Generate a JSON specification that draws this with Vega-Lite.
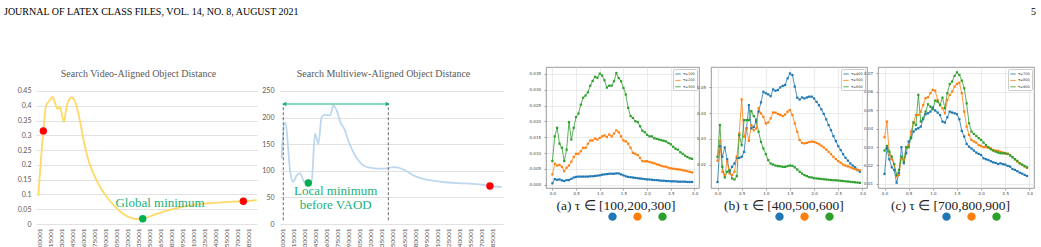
{
"$schema": "https://vega.github.io/schema/vega-lite/v6.json",
"background": "white",
"padding": {"left": 4, "top": 7, "right": 0, "bottom": 0},
"config": {"view": {"stroke": null}},
"spacing": 50,
"bounds": "flush",
"vconcat": [
{
"width": 1032, "height": 10,
"layer": [
{"data": {"values": [{"p": 0, "t": "JOURNAL OF LATEX CLASS FILES, VOL. 14, NO. 8, AUGUST 2021"}]},
 "mark": {"type": "text", "align": "left", "font": "Liberation Serif", "fontSize": 10, "color": "#000000"},
 "encoding": {"x": {"field": "p", "type": "quantitative", "scale": {"domain": [0, 1]}, "axis": null}, "text": {"field": "t"}}},
{"data": {"values": [{"p": 1, "t": "5"}]},
 "mark": {"type": "text", "align": "right", "font": "Liberation Serif", "fontSize": 10, "color": "#000000"},
 "encoding": {"x": {"field": "p", "type": "quantitative", "scale": {"domain": [0, 1]}, "axis": null}, "text": {"field": "t"}}}
]
},
{
"spacing": 0,
"bounds": "flush",
"resolve": {"scale": {"stroke": "independent", "fill": "independent", "color": "independent", "shape": "independent"}, "legend": {"stroke": "independent", "fill": "independent", "color": "independent", "shape": "independent"}},
"hconcat": [
{"width": 32, "height": 10, "data": {"values": []}, "mark": "point"},
{
"width": 221, "height": 157,
"title": {"text": "Search Video-Aligned Object Distance", "fontSize": 10, "color": "#595959", "font": "Liberation Serif", "fontWeight": "normal", "anchor": "middle", "offset": -12, "dx": -8},
"encoding": {
 "x": {"field": "x", "type": "quantitative", "scale": {"domain": [95450, 396830], "nice": false, "zero": false},
  "axis": {"title": null, "values": [100001,115001,130001,145001,160001,175001,190001,205001,220001,235001,250001,265001,280001,295001,310001,325001,340001,355001,370001,385001], "format": "d", "labelAngle": 270, "labelFont": "Lato", "labelFontSize": 6.5, "labelColor": "#595959", "labelPadding": 4, "labelFlush": false, "labelOverlap": false, "domain": false, "ticks": false, "grid": false}},
 "y": {"field": "y", "type": "quantitative", "scale": {"domain": [0, 0.5312], "nice": false, "zero": false},
  "axis": {"title": null, "values": [0,0.05,0.1,0.15,0.2,0.25,0.3,0.35,0.4,0.45], "format": "~g", "labelFont": "Lato", "labelFontSize": 7, "labelColor": "#595959", "labelPadding": 5, "domain": false, "ticks": false, "grid": true, "gridColor": "#D9D9D9", "gridWidth": 0.8}}
},
"layer": [
 {"data": {"values": [{"x":98600,"y":0.095},{"x":105450,"y":0.315},{"x":109100,"y":0.4},{"x":114550,"y":0.42},{"x":118200,"y":0.43},{"x":121400,"y":0.41},{"x":124550,"y":0.39},{"x":128200,"y":0.395},{"x":130900,"y":0.37},{"x":133650,"y":0.345},{"x":136350,"y":0.385},{"x":139550,"y":0.415},{"x":144100,"y":0.428},{"x":148650,"y":0.415},{"x":153200,"y":0.375},{"x":157700,"y":0.318},{"x":162300,"y":0.262},{"x":166800,"y":0.217},{"x":173650,"y":0.171},{"x":182750,"y":0.126},{"x":191800,"y":0.092},{"x":203200,"y":0.059},{"x":214550,"y":0.034},{"x":225900,"y":0.02},{"x":234000,"y":0.017},{"x":241000,"y":0.018},{"x":255450,"y":0.03},{"x":273650,"y":0.045},{"x":296350,"y":0.059},{"x":319100,"y":0.068},{"x":341800,"y":0.072},{"x":364550,"y":0.076},{"x":378200,"y":0.077},{"x":396400,"y":0.081}]},
  "mark": {"type": "line", "interpolate": "monotone", "color": "#FFD966", "strokeWidth": 1.8}},
 {"data": {"values": [{"x":105450,"y":0.315,"kind":"endpoint"},{"x":378200,"y":0.077,"kind":"endpoint"},{"x":241000,"y":0.018,"kind":"minimum"}]},
  "mark": {"type": "circle", "size": 55, "opacity": 1},
  "encoding": {"color": {"field": "kind", "type": "nominal", "scale": {"domain": ["endpoint","minimum"], "range": ["#FF0000","#00B050"]}, "legend": null}}},
 {"data": {"values": [{"x":264550,"y":0.07,"label":"Global minimum"}]},
  "mark": {"type": "text", "font": "Liberation Serif", "fontSize": 13, "color": "#1BAF7A"},
  "encoding": {"text": {"field": "label"}}}
]
},
{"width": 23, "height": 10, "data": {"values": []}, "mark": "point"},
{
"width": 223, "height": 157,
"title": {"text": "Search Multiview-Aligned Object Distance", "fontSize": 10, "color": "#595959", "font": "Liberation Serif", "fontWeight": "normal", "anchor": "middle", "offset": -12, "dx": -8},
"encoding": {
 "x": {"field": "x", "type": "quantitative", "scale": {"domain": [96370, 399630], "nice": false, "zero": false},
  "axis": {"title": null, "values": [100001,115001,130001,145001,160001,175001,190001,205001,220001,235001,250001,265001,280001,295001,310001,325001,340001,355001,370001,385001], "format": "d", "labelAngle": 270, "labelFont": "Lato", "labelFontSize": 6.5, "labelColor": "#595959", "labelPadding": 4, "labelFlush": false, "labelOverlap": false, "domain": false, "ticks": false, "grid": false}},
 "y": {"field": "y", "type": "quantitative", "scale": {"domain": [0, 295.1], "nice": false, "zero": false},
  "axis": {"title": null, "values": [0,50,100,150,200,250], "format": "d", "labelFont": "Lato", "labelFontSize": 7, "labelColor": "#595959", "labelPadding": 6, "domain": false, "ticks": false, "grid": true, "gridColor": "#D9D9D9", "gridWidth": 0.8}}
},
"layer": [
 {"data": {"values": [{"x":98640,"y":123},{"x":102270,"y":189},{"x":104080,"y":190},{"x":107700,"y":138},{"x":109970,"y":101},{"x":114500,"y":79},{"x":119030,"y":91.5},{"x":123570,"y":95},{"x":129460,"y":79},{"x":134890,"y":77},{"x":139430,"y":81},{"x":143960,"y":170},{"x":148490,"y":151},{"x":153020,"y":201},{"x":157550,"y":205.5},{"x":164350,"y":204},{"x":168880,"y":223},{"x":173410,"y":213.7},{"x":179300,"y":188.6},{"x":183840,"y":179},{"x":189280,"y":157},{"x":196070,"y":135},{"x":202870,"y":119.7},{"x":209670,"y":110},{"x":218730,"y":106},{"x":230060,"y":104},{"x":241390,"y":104.6},{"x":250450,"y":107},{"x":257250,"y":106},{"x":266310,"y":101},{"x":277640,"y":91.5},{"x":291240,"y":85},{"x":307100,"y":81},{"x":325230,"y":78},{"x":347890,"y":76.4},{"x":370540,"y":74},{"x":381870,"y":71.4},{"x":397730,"y":69.5}]},
  "mark": {"type": "line", "interpolate": "monotone", "color": "#BDD7EE", "strokeWidth": 1.8}},
 {"data": {"values": [{"x":100860,"y":7,"y2":227},{"x":243680,"y":7,"y2":227}]},
  "mark": {"type": "rule", "strokeDash": [3,2], "color": "#595959", "strokeWidth": 0.9},
  "encoding": {"y2": {"field": "y2"}}},
 {"data": {"values": [{"x":102200,"x2":242800,"y":225.6}]},
  "mark": {"type": "rule", "color": "#1BAF7A", "strokeWidth": 1.2},
  "encoding": {"x2": {"field": "x2"}}},
 {"data": {"values": [{"x":102200,"y":225.6,"dir":"triangle-left"},{"x":242800,"y":225.6,"dir":"triangle-right"}]},
  "mark": {"type": "point", "filled": true, "size": 22, "color": "#1BAF7A", "opacity": 1},
  "encoding": {"shape": {"field": "dir", "type": "nominal", "scale": null}}},
 {"data": {"values": [{"x":134890,"y":77,"kind":"minimum"},{"x":381870,"y":71.4,"kind":"endpoint"}]},
  "mark": {"type": "circle", "size": 55, "opacity": 1},
  "encoding": {"color": {"field": "kind", "type": "nominal", "scale": {"domain": ["endpoint","minimum"], "range": ["#FF0000","#00B050"]}, "legend": null}}},
 {"data": {"values": [{"x":172100,"y":62,"label":"Local minimum"},{"x":172100,"y":35.7,"label":"before VAOD"}]},
  "mark": {"type": "text", "font": "Liberation Serif", "fontSize": 13, "color": "#1BAF7A"},
  "encoding": {"text": {"field": "label"}}}
]
},
{"width": 43, "height": 10, "data": {"values": []}, "mark": "point"},
{
"width": 153, "height": 121,
"view": {"stroke": "#808080", "strokeWidth": 0.8},
"data": {"values": [
{"x":0,"τ=100":0.0005,"τ=200":0.0033,"τ=300":0.0075},
{"x":0.05,"τ=100":0.0018,"τ=200":0.0067,"τ=300":0.0153},
{"x":0.1,"τ=100":0.0016,"τ=200":0.0061,"τ=300":0.018},
{"x":0.15,"τ=100":0.0017,"τ=200":0.0063,"τ=300":0.013},
{"x":0.2,"τ=100":0.0014,"τ=200":0.0057,"τ=300":0.0117},
{"x":0.25,"τ=100":0.0012,"τ=200":0.0043,"τ=300":0.0075},
{"x":0.3,"τ=100":0.0015,"τ=200":0.0054,"τ=300":0.0111},
{"x":0.35,"τ=100":0.0015,"τ=200":0.0061,"τ=300":0.0198},
{"x":0.4,"τ=100":0.0019,"τ=200":0.0073,"τ=300":0.0143},
{"x":0.45,"τ=100":0.0023,"τ=200":0.0088,"τ=300":0.018},
{"x":0.5,"τ=100":0.0025,"τ=200":0.0098,"τ=300":0.0214},
{"x":0.55,"τ=100":0.0026,"τ=200":0.0098,"τ=300":0.0225},
{"x":0.6,"τ=100":0.0026,"τ=200":0.0106,"τ=300":0.0253},
{"x":0.65,"τ=100":0.0026,"τ=200":0.0117,"τ=300":0.0275},
{"x":0.7,"τ=100":0.0026,"τ=200":0.0117,"τ=300":0.0282},
{"x":0.75,"τ=100":0.0026,"τ=200":0.013,"τ=300":0.0292},
{"x":0.8,"τ=100":0.0027,"τ=200":0.014,"τ=300":0.0313},
{"x":0.85,"τ=100":0.0027,"τ=200":0.014,"τ=300":0.0328},
{"x":0.9,"τ=100":0.0028,"τ=200":0.0146,"τ=300":0.0341},
{"x":0.95,"τ=100":0.0029,"τ=200":0.0143,"τ=300":0.0338},
{"x":1,"τ=100":0.003,"τ=200":0.0148,"τ=300":0.0351},
{"x":1.05,"τ=100":0.0032,"τ=200":0.0153,"τ=300":0.0345},
{"x":1.1,"τ=100":0.0033,"τ=200":0.0156,"τ=300":0.033},
{"x":1.15,"τ=100":0.0034,"τ=200":0.0151,"τ=300":0.0307},
{"x":1.2,"τ=100":0.0035,"τ=200":0.0159,"τ=300":0.0313},
{"x":1.25,"τ=100":0.0035,"τ=200":0.0153,"τ=300":0.0313},
{"x":1.3,"τ=100":0.0035,"τ=200":0.0162,"τ=300":0.0327},
{"x":1.35,"τ=100":0.0036,"τ=200":0.0172,"τ=300":0.0353},
{"x":1.4,"τ=100":0.0036,"τ=200":0.0166,"τ=300":0.0337},
{"x":1.45,"τ=100":0.0033,"τ=200":0.0153,"τ=300":0.0327},
{"x":1.5,"τ=100":0.003,"τ=200":0.014,"τ=300":0.0306},
{"x":1.55,"τ=100":0.0027,"τ=200":0.0137,"τ=300":0.0285},
{"x":1.6,"τ=100":0.0025,"τ=200":0.013,"τ=300":0.0243},
{"x":1.65,"τ=100":0.0024,"τ=200":0.0117,"τ=300":0.0217},
{"x":1.7,"τ=100":0.0023,"τ=200":0.0101,"τ=300":0.0211},
{"x":1.75,"τ=100":0.0022,"τ=200":0.0098,"τ=300":0.0201},
{"x":1.8,"τ=100":0.0021,"τ=200":0.0094,"τ=300":0.0198},
{"x":1.85,"τ=100":0.002,"τ=200":0.0085,"τ=300":0.0185},
{"x":1.9,"τ=100":0.0019,"τ=200":0.0075,"τ=300":0.0171},
{"x":1.95,"τ=100":0.0018,"τ=200":0.0074,"τ=300":0.0166},
{"x":2,"τ=100":0.0017,"τ=200":0.0075,"τ=300":0.0158},
{"x":2.05,"τ=100":0.0017,"τ=200":0.0072,"τ=300":0.0153},
{"x":2.1,"τ=100":0.0016,"τ=200":0.007,"τ=300":0.0153},
{"x":2.15,"τ=100":0.0015,"τ=200":0.0068,"τ=300":0.0147},
{"x":2.2,"τ=100":0.0015,"τ=200":0.0065,"τ=300":0.0145},
{"x":2.25,"τ=100":0.0014,"τ=200":0.0063,"τ=300":0.0143},
{"x":2.3,"τ=100":0.0013,"τ=200":0.006,"τ=300":0.0141},
{"x":2.35,"τ=100":0.0013,"τ=200":0.0058,"τ=300":0.0139},
{"x":2.4,"τ=100":0.0012,"τ=200":0.0057,"τ=300":0.0137},
{"x":2.45,"τ=100":0.0012,"τ=200":0.0054,"τ=300":0.0132},
{"x":2.5,"τ=100":0.0011,"τ=200":0.0052,"τ=300":0.0128},
{"x":2.55,"τ=100":0.0011,"τ=200":0.0051,"τ=300":0.012},
{"x":2.6,"τ=100":0.0011,"τ=200":0.005,"τ=300":0.0114},
{"x":2.65,"τ=100":0.001,"τ=200":0.0049,"τ=300":0.0111},
{"x":2.7,"τ=100":0.001,"τ=200":0.0048,"τ=300":0.0103},
{"x":2.75,"τ=100":0.001,"τ=200":0.0046,"τ=300":0.0098},
{"x":2.8,"τ=100":0.001,"τ=200":0.0045,"τ=300":0.0092},
{"x":2.85,"τ=100":0.0009,"τ=200":0.0043,"τ=300":0.0088},
{"x":2.9,"τ=100":0.0009,"τ=200":0.0041,"τ=300":0.0084},
{"x":2.95,"τ=100":0.0009,"τ=200":0.0039,"τ=300":0.0082}
]},
"transform": [{"fold": ["τ=100","τ=200","τ=300"], "as": ["tau","v"]}],
"encoding": {
 "x": {"field": "x", "type": "quantitative", "scale": {"domain": [-0.135, 3.095], "nice": false, "zero": false},
  "axis": {"title": "(a) τ ∈ [100,200,300]", "titleX": 69.5, "values": [0,0.5,1,1.5,2,2.5,3], "format": ".1f", "labelFont": "DejaVu Sans", "labelFontSize": 4, "labelColor": "#444444", "labelPadding": 1, "labelFlush": false, "tickSize": 2, "tickColor": "#666666", "tickWidth": 0.6, "domain": false, "grid": true, "gridColor": "#E3E3E3", "gridWidth": 0.7, "titleFont": "Liberation Serif", "titleFontSize": 13.5, "titleFontWeight": "normal", "titleColor": "#222222", "titlePadding": 3}},
 "y": {"field": "v", "type": "quantitative", "scale": {"domain": [-0.001, 0.0372], "nice": false, "zero": false},
  "axis": {"title": null, "values": [0,0.005,0.01,0.015,0.02,0.025,0.03,0.035], "format": ".3f", "labelFont": "DejaVu Sans", "labelFontSize": 4, "labelColor": "#444444", "labelPadding": 3.5, "tickSize": 2, "tickColor": "#666666", "tickWidth": 0.6, "domain": false, "grid": true, "gridColor": "#E3E3E3", "gridWidth": 0.7}}
},
"layer": [
 {"mark": {"type": "line", "strokeWidth": 0.8},
  "encoding": {"stroke": {"field": "tau", "type": "nominal", "scale": {"range": ["#1f77b4","#ff7f0e","#2ca02c"]},
   "legend": {"orient": "top-right", "title": null, "offset": 2, "padding": 1.5, "fillColor": "white", "strokeColor": "#cccccc", "cornerRadius": 1, "labelFont": "DejaVu Sans", "labelFontSize": 3.5, "labelColor": "#333333", "labelOffset": 1.5, "rowPadding": 0.4, "symbolType": "stroke", "symbolSize": 30, "symbolStrokeWidth": 0.8}}}},
 {"mark": {"type": "point", "filled": true, "shape": "square", "size": 5, "opacity": 1, "strokeWidth": 0},
  "encoding": {"fill": {"field": "tau", "type": "nominal", "scale": {"domain": ["τ=100","τ=200","τ=300"], "range": ["#1f77b4","#ff7f0e","#2ca02c"]},
   "legend": {"orient": "bottom", "direction": "horizontal", "title": " ", "titleOrient": "left", "titleFontSize": 1, "titlePadding": 62, "offset": 0, "padding": 0, "symbolType": "circle", "symbolSize": 70, "symbolStrokeWidth": 0, "symbolOpacity": 1, "labelExpr": "''", "labelFontSize": 1, "labelOffset": 0, "columnPadding": 16}}}}
]
},
{"width": 12, "height": 10, "data": {"values": []}, "mark": "point"},
{
"width": 156, "height": 121,
"view": {"stroke": "#808080", "strokeWidth": 0.8},
"data": {"values": [
{"x":0,"τ=400":0.0133,"τ=500":0.0216,"τ=600":0.0231},
{"x":0.05,"τ=400":0.0272,"τ=500":0.0293,"τ=600":0.0354},
{"x":0.1,"τ=400":0.0231,"τ=500":0.0173,"τ=600":0.0192},
{"x":0.15,"τ=400":0.0267,"τ=500":0.016,"τ=600":0.0151},
{"x":0.2,"τ=400":0.0221,"τ=500":0.0212,"τ=600":0.0173},
{"x":0.25,"τ=400":0.0173,"τ=500":0.0166,"τ=600":0.0179},
{"x":0.3,"τ=400":0.0192,"τ=500":0.016,"τ=600":0.0147},
{"x":0.35,"τ=400":0.0205,"τ=500":0.0173,"τ=600":0.0143},
{"x":0.4,"τ=400":0.0227,"τ=500":0.0231,"τ=600":0.0156},
{"x":0.45,"τ=400":0.0227,"τ=500":0.0322,"τ=600":0.0315},
{"x":0.5,"τ=400":0.0231,"τ=500":0.0453,"τ=600":0.0276},
{"x":0.55,"τ=400":0.025,"τ=500":0.0309,"τ=600":0.0373},
{"x":0.6,"τ=400":0.0341,"τ=500":0.0341,"τ=600":0.0373},
{"x":0.65,"τ=400":0.0431,"τ=500":0.0293,"τ=600":0.0373},
{"x":0.7,"τ=400":0.0341,"τ=500":0.0354,"τ=600":0.0408},
{"x":0.75,"τ=400":0.0347,"τ=500":0.0334,"τ=600":0.0389},
{"x":0.8,"τ=400":0.0367,"τ=500":0.0341,"τ=600":0.0373},
{"x":0.85,"τ=400":0.0406,"τ=500":0.0419,"τ=600":0.0328},
{"x":0.9,"τ=400":0.0442,"τ=500":0.0399,"τ=600":0.0289},
{"x":0.95,"τ=400":0.0483,"τ=500":0.0386,"τ=600":0.0263},
{"x":1,"τ=400":0.0477,"τ=500":0.036,"τ=600":0.0241},
{"x":1.05,"τ=400":0.0473,"τ=500":0.0364,"τ=600":0.0218},
{"x":1.1,"τ=400":0.0466,"τ=500":0.038,"τ=600":0.0205},
{"x":1.15,"τ=400":0.0492,"τ=500":0.0403,"τ=600":0.0201},
{"x":1.2,"τ=400":0.0487,"τ=500":0.0402,"τ=600":0.0197},
{"x":1.25,"τ=400":0.049,"τ=500":0.0397,"τ=600":0.0195},
{"x":1.3,"τ=400":0.05,"τ=500":0.0393,"τ=600":0.0194},
{"x":1.35,"τ=400":0.0506,"τ=500":0.0389,"τ=600":0.0192},
{"x":1.4,"τ=400":0.0509,"τ=500":0.0395,"τ=600":0.0192},
{"x":1.45,"τ=400":0.0535,"τ=500":0.0406,"τ=600":0.0195},
{"x":1.5,"τ=400":0.0554,"τ=500":0.0412,"τ=600":0.0197},
{"x":1.55,"τ=400":0.0548,"τ=500":0.0393,"τ=600":0.0196},
{"x":1.6,"τ=400":0.0503,"τ=500":0.036,"τ=600":0.019},
{"x":1.65,"τ=400":0.046,"τ=500":0.0328,"τ=600":0.0182},
{"x":1.7,"τ=400":0.0453,"τ=500":0.0296,"τ=600":0.0173},
{"x":1.75,"τ=400":0.0461,"τ=500":0.0285,"τ=600":0.0166},
{"x":1.8,"τ=400":0.0457,"τ=500":0.0283,"τ=600":0.016},
{"x":1.85,"τ=400":0.0461,"τ=500":0.0285,"τ=600":0.0156},
{"x":1.9,"τ=400":0.0464,"τ=500":0.0288,"τ=600":0.0152},
{"x":1.95,"τ=400":0.0464,"τ=500":0.029,"τ=600":0.0151},
{"x":2,"τ=400":0.0457,"τ=500":0.0289,"τ=600":0.0148},
{"x":2.05,"τ=400":0.0444,"τ=500":0.0285,"τ=600":0.0147},
{"x":2.1,"τ=400":0.0431,"τ=500":0.028,"τ=600":0.0146},
{"x":2.15,"τ=400":0.0415,"τ=500":0.0274,"τ=600":0.0145},
{"x":2.2,"τ=400":0.0397,"τ=500":0.0267,"τ=600":0.0144},
{"x":2.25,"τ=400":0.0376,"τ=500":0.0259,"τ=600":0.0143},
{"x":2.3,"τ=400":0.0354,"τ=500":0.025,"τ=600":0.0142},
{"x":2.35,"τ=400":0.0334,"τ=500":0.0241,"τ=600":0.0141},
{"x":2.4,"τ=400":0.0311,"τ=500":0.0231,"τ=600":0.014},
{"x":2.45,"τ=400":0.0292,"τ=500":0.0222,"τ=600":0.014},
{"x":2.5,"τ=400":0.0272,"τ=500":0.0214,"τ=600":0.0139},
{"x":2.55,"τ=400":0.0257,"τ=500":0.0208,"τ=600":0.0138},
{"x":2.6,"τ=400":0.0241,"τ=500":0.0201,"τ=600":0.0137},
{"x":2.65,"τ=400":0.0227,"τ=500":0.0197,"τ=600":0.0136},
{"x":2.7,"τ=400":0.0216,"τ=500":0.0194,"τ=600":0.0135},
{"x":2.75,"τ=400":0.0205,"τ=500":0.019,"τ=600":0.0134},
{"x":2.8,"τ=400":0.0197,"τ=500":0.0186,"τ=600":0.0133},
{"x":2.85,"τ=400":0.019,"τ=500":0.0183,"τ=600":0.0132},
{"x":2.9,"τ=400":0.0179,"τ=500":0.0181,"τ=600":0.0131},
{"x":2.95,"τ=400":0.0173,"τ=500":0.0178,"τ=600":0.013}
]},
"transform": [{"fold": ["τ=400","τ=500","τ=600"], "as": ["tau","v"]}],
"encoding": {
 "x": {"field": "x", "type": "quantitative", "scale": {"domain": [-0.135, 3.095], "nice": false, "zero": false},
  "axis": {"title": "(b) τ ∈ [400,500,600]", "titleX": 72.3, "values": [0,0.5,1,1.5,2,2.5,3], "format": ".1f", "labelFont": "DejaVu Sans", "labelFontSize": 4, "labelColor": "#444444", "labelPadding": 1, "labelFlush": false, "tickSize": 2, "tickColor": "#666666", "tickWidth": 0.6, "domain": false, "grid": true, "gridColor": "#E3E3E3", "gridWidth": 0.7, "titleFont": "Liberation Serif", "titleFontSize": 13.5, "titleFontWeight": "normal", "titleColor": "#222222", "titlePadding": 3}},
 "y": {"field": "v", "type": "quantitative", "scale": {"domain": [0.011, 0.0579], "nice": false, "zero": false},
  "axis": {"title": null, "values": [0.02,0.03,0.04,0.05], "format": ".2f", "labelFont": "DejaVu Sans", "labelFontSize": 4, "labelColor": "#444444", "labelPadding": 3.5, "tickSize": 2, "tickColor": "#666666", "tickWidth": 0.6, "domain": false, "grid": true, "gridColor": "#E3E3E3", "gridWidth": 0.7}}
},
"layer": [
 {"mark": {"type": "line", "strokeWidth": 0.8},
  "encoding": {"stroke": {"field": "tau", "type": "nominal", "scale": {"range": ["#1f77b4","#ff7f0e","#2ca02c"]},
   "legend": {"orient": "top-right", "title": null, "offset": 2, "padding": 1.5, "fillColor": "white", "strokeColor": "#cccccc", "cornerRadius": 1, "labelFont": "DejaVu Sans", "labelFontSize": 3.5, "labelColor": "#333333", "labelOffset": 1.5, "rowPadding": 0.4, "symbolType": "stroke", "symbolSize": 30, "symbolStrokeWidth": 0.8}}}},
 {"mark": {"type": "point", "filled": true, "shape": "square", "size": 5, "opacity": 1, "strokeWidth": 0},
  "encoding": {"fill": {"field": "tau", "type": "nominal", "scale": {"domain": ["τ=400","τ=500","τ=600"], "range": ["#1f77b4","#ff7f0e","#2ca02c"]},
   "legend": {"orient": "bottom", "direction": "horizontal", "title": " ", "titleOrient": "left", "titleFontSize": 1, "titlePadding": 64, "offset": 0, "padding": 0, "symbolType": "circle", "symbolSize": 70, "symbolStrokeWidth": 0, "symbolOpacity": 1, "labelExpr": "''", "labelFontSize": 1, "labelOffset": 0, "columnPadding": 16}}}}
]
},
{"width": 11, "height": 10, "data": {"values": []}, "mark": "point"},
{
"width": 156, "height": 121,
"view": {"stroke": "#808080", "strokeWidth": 0.8},
"data": {"values": [
{"x":0,"τ=700":0.0154,"τ=800":0.0353,"τ=900":0.0281},
{"x":0.05,"τ=700":0.0293,"τ=800":0.0438,"τ=900":0.0306},
{"x":0.1,"τ=700":0.0234,"τ=800":0.0257,"τ=900":0.0275},
{"x":0.15,"τ=700":0.019,"τ=800":0.0234,"τ=900":0.0248},
{"x":0.2,"τ=700":0.0176,"τ=800":0.0203,"τ=900":0.0208},
{"x":0.25,"τ=700":0.0107,"τ=800":0.014,"τ=900":0.0149},
{"x":0.3,"τ=700":0.0158,"τ=800":0.0149,"τ=900":0.0176},
{"x":0.35,"τ=700":0.0299,"τ=800":0.0239,"τ=900":0.0248},
{"x":0.4,"τ=700":0.0212,"τ=800":0.023,"τ=900":0.0221},
{"x":0.45,"τ=700":0.0266,"τ=800":0.0299,"τ=900":0.0299},
{"x":0.5,"τ=700":0.033,"τ=800":0.0306,"τ=900":0.0299},
{"x":0.55,"τ=700":0.0348,"τ=800":0.0384,"τ=900":0.0353},
{"x":0.6,"τ=700":0.0384,"τ=800":0.0434,"τ=900":0.0433},
{"x":0.65,"τ=700":0.0396,"τ=800":0.0474,"τ=900":0.042},
{"x":0.7,"τ=700":0.0402,"τ=800":0.0474,"τ=900":0.0583},
{"x":0.75,"τ=700":0.0411,"τ=800":0.0492,"τ=900":0.0438},
{"x":0.8,"τ=700":0.0451,"τ=800":0.0528,"τ=900":0.0456},
{"x":0.85,"τ=700":0.0478,"τ=800":0.0565,"τ=900":0.0492},
{"x":0.9,"τ=700":0.0483,"τ=800":0.057,"τ=900":0.0532},
{"x":0.95,"τ=700":0.0492,"τ=800":0.0592,"τ=900":0.0519},
{"x":1,"τ=700":0.0514,"τ=800":0.061,"τ=900":0.0505},
{"x":1.05,"τ=700":0.0498,"τ=800":0.0606,"τ=900":0.0552},
{"x":1.1,"τ=700":0.0487,"τ=800":0.0555,"τ=900":0.0546},
{"x":1.15,"τ=700":0.0474,"τ=800":0.0528,"τ=900":0.0528},
{"x":1.2,"τ=700":0.0438,"τ=800":0.051,"τ=900":0.0568},
{"x":1.25,"τ=700":0.0433,"τ=800":0.0483,"τ=900":0.051},
{"x":1.3,"τ=700":0.0461,"τ=800":0.0555,"τ=900":0.0592},
{"x":1.35,"τ=700":0.0492,"τ=800":0.0583,"τ=900":0.0642},
{"x":1.4,"τ=700":0.0487,"τ=800":0.0601,"τ=900":0.0655},
{"x":1.45,"τ=700":0.0483,"τ=800":0.0628,"τ=900":0.0686},
{"x":1.5,"τ=700":0.0478,"τ=800":0.0642,"τ=900":0.0705},
{"x":1.55,"τ=700":0.0451,"τ=800":0.0649,"τ=900":0.0691},
{"x":1.6,"τ=700":0.0387,"τ=800":0.0592,"τ=900":0.066},
{"x":1.65,"τ=700":0.0357,"τ=800":0.0492,"τ=900":0.0619},
{"x":1.7,"τ=700":0.0317,"τ=800":0.0411,"τ=900":0.0537},
{"x":1.75,"τ=700":0.0302,"τ=800":0.0366,"τ=900":0.0429},
{"x":1.8,"τ=700":0.0292,"τ=800":0.0339,"τ=900":0.0384},
{"x":1.85,"τ=700":0.0281,"τ=800":0.033,"τ=900":0.0371},
{"x":1.9,"τ=700":0.027,"τ=800":0.0324,"τ=900":0.036},
{"x":1.95,"τ=700":0.0263,"τ=800":0.0311,"τ=900":0.0348},
{"x":2,"τ=700":0.0257,"τ=800":0.0306,"τ=900":0.0339},
{"x":2.05,"τ=700":0.0239,"τ=800":0.0299,"τ=900":0.0324},
{"x":2.1,"τ=700":0.0234,"τ=800":0.0299,"τ=900":0.0311},
{"x":2.15,"τ=700":0.023,"τ=800":0.0297,"τ=900":0.0299},
{"x":2.2,"τ=700":0.0223,"τ=800":0.0293,"τ=900":0.0288},
{"x":2.25,"τ=700":0.0217,"τ=800":0.0284,"τ=900":0.0281},
{"x":2.3,"τ=700":0.0214,"τ=800":0.0281,"τ=900":0.0275},
{"x":2.35,"τ=700":0.0208,"τ=800":0.0279,"τ=900":0.027},
{"x":2.4,"τ=700":0.0212,"τ=800":0.0275,"τ=900":0.0266},
{"x":2.45,"τ=700":0.0207,"τ=800":0.027,"τ=900":0.0266},
{"x":2.5,"τ=700":0.0205,"τ=800":0.0266,"τ=900":0.0266},
{"x":2.55,"τ=700":0.0198,"τ=800":0.0263,"τ=900":0.0263},
{"x":2.6,"τ=700":0.0194,"τ=800":0.0257,"τ=900":0.0254},
{"x":2.65,"τ=700":0.0181,"τ=800":0.0245,"τ=900":0.0245},
{"x":2.7,"τ=700":0.0176,"τ=800":0.0234,"τ=900":0.0234},
{"x":2.75,"τ=700":0.0169,"τ=800":0.0221,"τ=900":0.0225},
{"x":2.8,"τ=700":0.0161,"τ=800":0.0212,"τ=900":0.0212},
{"x":2.85,"τ=700":0.0156,"τ=800":0.0203,"τ=900":0.0205},
{"x":2.9,"τ=700":0.0149,"τ=800":0.0194,"τ=900":0.0198},
{"x":2.95,"τ=700":0.0143,"τ=800":0.0187,"τ=900":0.019}
]},
"transform": [{"fold": ["τ=700","τ=800","τ=900"], "as": ["tau","v"]}],
"encoding": {
 "x": {"field": "x", "type": "quantitative", "scale": {"domain": [-0.135, 3.095], "nice": false, "zero": false},
  "axis": {"title": "(c) τ ∈ [700,800,900]", "titleX": 72, "values": [0,0.5,1,1.5,2,2.5,3], "format": ".1f", "labelFont": "DejaVu Sans", "labelFontSize": 4, "labelColor": "#444444", "labelPadding": 1, "labelFlush": false, "tickSize": 2, "tickColor": "#666666", "tickWidth": 0.6, "domain": false, "grid": true, "gridColor": "#E3E3E3", "gridWidth": 0.7, "titleFont": "Liberation Serif", "titleFontSize": 13.5, "titleFontWeight": "normal", "titleColor": "#222222", "titlePadding": 3}},
 "y": {"field": "v", "type": "quantitative", "scale": {"domain": [0.0078, 0.0734], "nice": false, "zero": false},
  "axis": {"title": null, "values": [0.01,0.02,0.03,0.04,0.05,0.06,0.07], "format": ".2f", "labelFont": "DejaVu Sans", "labelFontSize": 4, "labelColor": "#444444", "labelPadding": 3.5, "tickSize": 2, "tickColor": "#666666", "tickWidth": 0.6, "domain": false, "grid": true, "gridColor": "#E3E3E3", "gridWidth": 0.7}}
},
"layer": [
 {"mark": {"type": "line", "strokeWidth": 0.8},
  "encoding": {"stroke": {"field": "tau", "type": "nominal", "scale": {"range": ["#1f77b4","#ff7f0e","#2ca02c"]},
   "legend": {"orient": "top-right", "title": null, "offset": 2, "padding": 1.5, "fillColor": "white", "strokeColor": "#cccccc", "cornerRadius": 1, "labelFont": "DejaVu Sans", "labelFontSize": 3.5, "labelColor": "#333333", "labelOffset": 1.5, "rowPadding": 0.4, "symbolType": "stroke", "symbolSize": 30, "symbolStrokeWidth": 0.8}}}},
 {"mark": {"type": "point", "filled": true, "shape": "square", "size": 5, "opacity": 1, "strokeWidth": 0},
  "encoding": {"fill": {"field": "tau", "type": "nominal", "scale": {"domain": ["τ=700","τ=800","τ=900"], "range": ["#1f77b4","#ff7f0e","#2ca02c"]},
   "legend": {"orient": "bottom", "direction": "horizontal", "title": " ", "titleOrient": "left", "titleFontSize": 1, "titlePadding": 64, "offset": 0, "padding": 0, "symbolType": "circle", "symbolSize": 70, "symbolStrokeWidth": 0, "symbolOpacity": 1, "labelExpr": "''", "labelFontSize": 1, "labelOffset": 0, "columnPadding": 16}}}}
]
}
]
}
]
}
